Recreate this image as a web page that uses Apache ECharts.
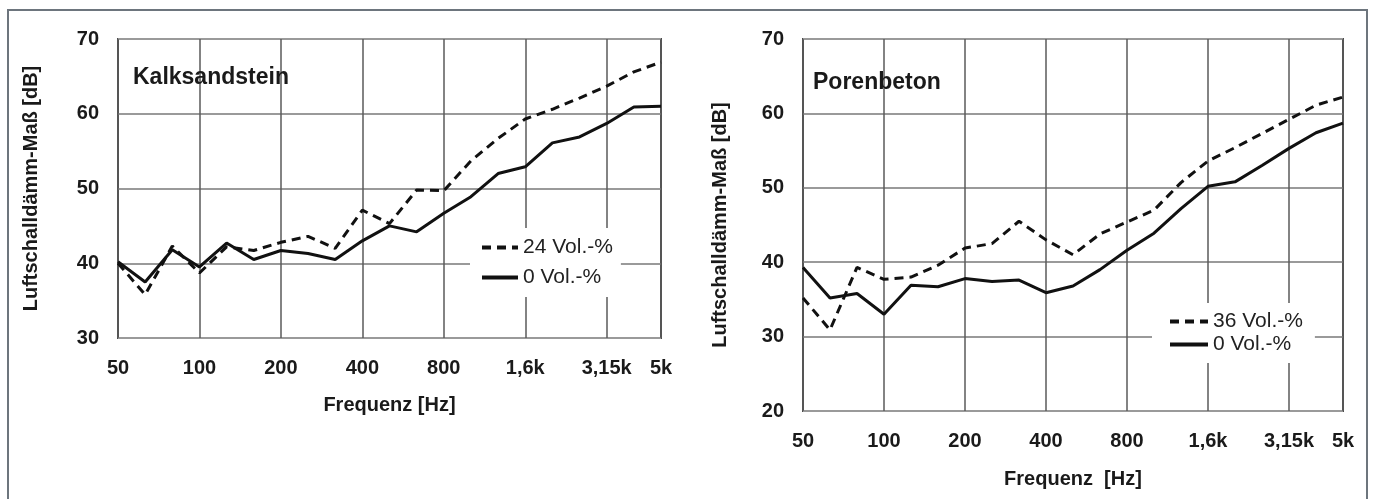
<!DOCTYPE html>
<html>
<head>
<meta charset="utf-8">
<script src="https://cdn.jsdelivr.net/npm/echarts@6/dist/echarts.min.js"></script>
<style>
  html, body { margin: 0; padding: 0; background: #fff; }
  #chart { width: 1373px; height: 499px; }
</style>
</head>
<body>
<div id="chart"></div>
<script>
// third-octave bands, only some of them get a label
const freqLabels = ['50', '63', '80', '100', '125', '160', '200', '250', '315', '400', '500',
  '630', '800', '1000', '1250', '1,6k', '2000', '2500', '3,15k', '4000', '5k']

// Kalksandstein
const ksZero = [40.2, 37.5, 41.8, 39.5, 42.7, 40.5, 41.7, 41.3, 40.5, 43.0, 45.0,
  44.2, 46.7, 48.9, 52.0, 52.9, 56.1, 56.9, 58.7, 60.9, 61.0]
const ks24 = [40.0, 35.8, 42.3, 38.7, 42.2, 41.7, 42.8, 43.6, 42.0, 47.1, 45.3,
  49.8, 49.7, 53.7, 56.7, 59.3, 60.6, 62.1, 63.7, 65.6, 66.9]

// Porenbeton
const pbZero = [39.3, 35.2, 35.8, 33.0, 36.9, 36.7, 37.8, 37.4, 37.6, 35.9, 36.8,
  39.0, 41.6, 43.9, 47.2, 50.2, 50.8, 53.0, 55.3, 57.4, 58.7]
const pb36 = [35.2, 30.9, 39.3, 37.7, 38.0, 39.6, 41.9, 42.5, 45.5, 43.0, 41.0,
  43.8, 45.4, 47.0, 50.7, 53.6, 55.4, 57.3, 59.2, 61.1, 62.2]

const font = "'Liberation Sans', Arial, sans-serif"
const ink = '#1a1a1a'
const showTick = i => i % 3 === 0 || i === freqLabels.length - 1

const xAxisFor = (gridIndex, nameGap) => ({
  type: 'category',
  gridIndex: gridIndex,
  data: freqLabels,
  boundaryGap: false,
  name: gridIndex === 0 ? 'Frequenz [Hz]' : 'Frequenz  [Hz]',
  nameLocation: 'middle',
  nameGap: nameGap,
  nameTextStyle: { fontFamily: font, fontWeight: 'bold', fontSize: 20, color: ink },
  axisLine: { show: false },
  axisTick: { show: false },
  axisLabel: {
    interval: showTick, margin: 20,
    fontFamily: font, fontWeight: 'bold', fontSize: 20, color: ink
  },
  splitLine: { show: true, interval: showTick, lineStyle: { color: '#5a5a5a', width: 1.5 } }
})

const yAxisFor = (gridIndex, min, nameGap) => ({
  type: 'value',
  gridIndex: gridIndex,
  min: min,
  max: 70,
  interval: 10,
  name: 'Luftschalldämm-Maß [dB]',
  nameLocation: 'middle',
  nameGap: nameGap,
  nameTextStyle: { fontFamily: font, fontWeight: 'bold', fontSize: 20, color: ink },
  axisLine: { show: false },
  axisTick: { show: false },
  axisLabel: { margin: 19, fontFamily: font, fontWeight: 'bold', fontSize: 20, color: ink },
  splitLine: { lineStyle: { color: '#9a9a9a', width: 2 } }
})

const lineSeries = (name, data, idx, dashed) => ({
  name: name,
  type: 'line',
  xAxisIndex: idx,
  yAxisIndex: idx,
  data: data,
  symbol: 'none',
  silent: true,
  lineStyle: { color: '#111', width: 3, type: dashed ? [9, 6] : 'solid' },
  itemStyle: { color: '#111' }
})

const legendText = { fontFamily: font, fontSize: 21, color: '#222' }
// hide the little circle ECharts puts on line legend icons
const noDot = { opacity: 0, borderWidth: 0 }
const legendLine = { width: 4 }

const option = {
  animation: false,
  backgroundColor: '#fff',
  graphic: [{
    type: 'rect',
    shape: { x: 8, y: 10, width: 1359, height: 600 },
    style: { fill: 'none', stroke: '#6d757d', lineWidth: 2 },
    silent: true
  }],
  title: [
    { text: 'Kalksandstein', left: 128, top: 61, textStyle: { fontFamily: font, fontWeight: 'bold', fontSize: 23, color: ink } },
    { text: 'Porenbeton', left: 808, top: 66, textStyle: { fontFamily: font, fontWeight: 'bold', fontSize: 23, color: ink } }
  ],
  grid: [
    { left: 118, top: 39, right: 712, bottom: 161, show: true, borderColor: '#4a4a4a', borderWidth: 2, backgroundColor: 'transparent' },
    { left: 803, top: 39, right: 30, bottom: 88, show: true, borderColor: '#4a4a4a', borderWidth: 2, backgroundColor: 'transparent' }
  ],
  legend: [
    {
      data: ['24 Vol.-%', '0 Vol.-%'],
      orient: 'vertical',
      left: 470, top: 228,
      padding: [9, 8, 9, 10],
      itemWidth: 36, itemHeight: 14, itemGap: 9,
      itemStyle: noDot,
      lineStyle: legendLine,
      backgroundColor: '#fff',
      textStyle: legendText,
      selectedMode: false
    },
    {
      data: ['36 Vol.-%', '0 Vol.-% '],
      orient: 'vertical',
      left: 1152, top: 303,
      padding: [8, 12, 8, 16],
      itemWidth: 38, itemHeight: 14, itemGap: 2,
      itemStyle: noDot,
      lineStyle: legendLine,
      backgroundColor: '#fff',
      textStyle: legendText,
      selectedMode: false
    }
  ],
  xAxis: [xAxisFor(0, 57), xAxisFor(1, 58)],
  yAxis: [yAxisFor(0, 30, 77), yAxisFor(1, 20, 73)],
  series: [
    lineSeries('24 Vol.-%', ks24, 0, true),
    lineSeries('0 Vol.-%', ksZero, 0, false),
    lineSeries('36 Vol.-%', pb36, 1, true),
    lineSeries('0 Vol.-% ', pbZero, 1, false)
  ]
}

const chart = echarts.init(document.getElementById('chart'), null, { renderer: 'canvas' })
chart.setOption(option)
</script>
</body>
</html>
